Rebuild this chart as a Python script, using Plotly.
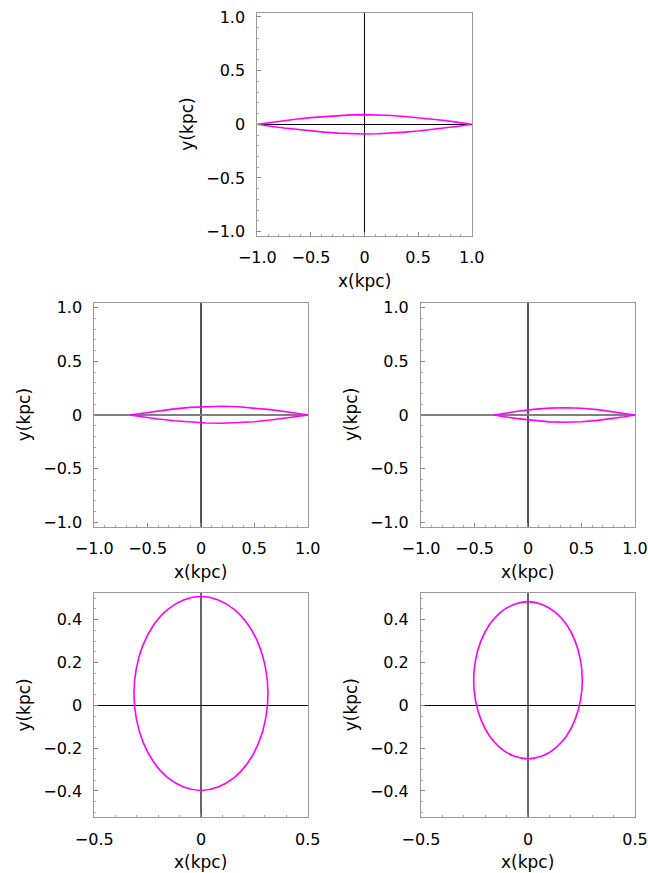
import plotly.graph_objects as go

# ---- data ----
# Panel 1 (top): lens-shaped orbit
p1_x_half = [-1.0, -0.875, -0.75, -0.625, -0.5, -0.375, -0.25, -0.125, 0.0,
             0.125, 0.25, 0.375, 0.5, 0.625, 0.75, 0.875, 1.0]
p1_y_upper = [0.0, 0.018, 0.035, 0.049, 0.062, 0.073, 0.082, 0.088, 0.090,
              0.088, 0.082, 0.073, 0.062, 0.049, 0.035, 0.018, 0.0]
p1_y_lower = [-0.0, -0.018, -0.035, -0.049, -0.062, -0.073, -0.082, -0.088, -0.090,
              -0.088, -0.082, -0.073, -0.062, -0.049, -0.035, -0.018, -0.0]

# Panel 2 (middle left)
p2_x_half = [-0.665, -0.55, -0.4, -0.25, -0.1, 0.05, 0.2, 0.35, 0.5, 0.65, 0.8, 0.9, 1.0]
p2_y_upper = [0.0, 0.0175, 0.039, 0.057, 0.071, 0.079, 0.081, 0.076, 0.066, 0.050, 0.030, 0.015, 0.0]
p2_y_lower = [0.0, -0.0166, -0.037, -0.054, -0.067, -0.075, -0.077, -0.072, -0.063, -0.047, -0.028, -0.014, 0.0]

# Panel 3 (middle right)
p3_x_half = [-0.318, -0.22, -0.1, 0.05, 0.2, 0.35, 0.5, 0.65, 0.8, 0.9, 1.0]
p3_y_upper = [0.0, 0.0158, 0.034, 0.052, 0.064, 0.068, 0.063, 0.050, 0.031, 0.016, 0.0]
p3_y_lower = [0.0, -0.0158, -0.034, -0.052, -0.064, -0.068, -0.063, -0.050, -0.031, -0.016, 0.0]

# Panel 4 (bottom left): closed orbit
p4_x = [0.314, 0.303, 0.272, 0.222, 0.157, 0.081, 0.0, -0.081, -0.157, -0.222, -0.272, -0.303,
        -0.314, -0.303, -0.272, -0.222, -0.157, -0.081, 0.0, 0.081, 0.157, 0.222, 0.272, 0.303, 0.314]
p4_y = [0.055, 0.172, 0.281, 0.375, 0.447, 0.492, 0.508, 0.492, 0.447, 0.375, 0.281, 0.172,
        0.055, -0.062, -0.171, -0.265, -0.337, -0.382, -0.398, -0.382, -0.337, -0.265, -0.171, -0.062, 0.055]

# Panel 5 (bottom right): closed orbit
p5_x = [0.254, 0.245, 0.220, 0.180, 0.127, 0.066, 0.0, -0.066, -0.127, -0.180, -0.220, -0.245,
        -0.254, -0.245, -0.220, -0.180, -0.127, -0.066, 0.0, 0.066, 0.127, 0.180, 0.220, 0.245, 0.254]
p5_y = [0.117, 0.212, 0.301, 0.377, 0.435, 0.471, 0.484, 0.471, 0.435, 0.377, 0.301, 0.212,
        0.117, 0.022, -0.067, -0.143, -0.201, -0.237, -0.250, -0.237, -0.201, -0.143, -0.067, 0.022, 0.117]

# tick labels
big_ticks = [-1.0, -0.5, 0.0, 0.5, 1.0]
big_text = ["\u22121.0", "\u22120.5", "0", "0.5", "1.0"]
small_xticks = [-0.5, 0.0, 0.5]
small_xtext = ["\u22120.5", "0", "0.5"]
small_yticks = [-0.4, -0.2, 0.0, 0.2, 0.4]
small_ytext = ["\u22120.4", "\u22120.2", "0", "0.2", "0.4"]

MAG = "#ff00ff"
FONT = "DejaVu Sans"

fig = go.Figure()

def lens(xh, yu, yl):
    xs = list(xh) + list(reversed(xh))
    ys = list(yu) + list(reversed(yl))
    return xs, ys

panels = [
    dict(n="", data=lens(p1_x_half, p1_y_upper, p1_y_lower), shape="linear",
         xdom=[0.3971, 0.7279], ydom=[0.7297, 0.9855], xr=[-1, 1], yr=[-1.04, 1.04],
         xt=(big_ticks, big_text), yt=(big_ticks, big_text), xminor=0.1, yminor=0.1,
         zx=("black", 1), zy=("black", 1)),
    dict(n="2", data=lens(p2_x_half, p2_y_upper, p2_y_lower), shape="linear",
         xdom=[0.1455, 0.4748], ydom=[0.3967, 0.6526], xr=[-1, 1], yr=[-1.04, 1.04],
         xt=(big_ticks, big_text), yt=(big_ticks, big_text), xminor=0.1, yminor=0.1,
         zx=("#555555", 1.5), zy=("#808080", 2)),
    dict(n="3", data=lens(p3_x_half, p3_y_upper, p3_y_lower), shape="linear",
         xdom=[0.6497, 0.9799], ydom=[0.3967, 0.6526], xr=[-1, 1], yr=[-1.04, 1.04],
         xt=(big_ticks, big_text), yt=(big_ticks, big_text), xminor=0.1, yminor=0.1,
         zx=("#555555", 1.5), zy=("#808080", 2)),
    dict(n="4", data=(p4_x, p4_y), shape="spline",
         xdom=[0.1455, 0.4748], ydom=[0.0638, 0.3204], xr=[-0.5, 0.5], yr=[-0.523, 0.523],
         xt=(small_xticks, small_xtext), yt=(small_yticks, small_ytext), xminor=0.1, yminor=0.05,
         zx=("#666666", 1.5), zy=("black", 1)),
    dict(n="5", data=(p5_x, p5_y), shape="spline",
         xdom=[0.6497, 0.9799], ydom=[0.0638, 0.3204], xr=[-0.5, 0.5], yr=[-0.523, 0.523],
         xt=(small_xticks, small_xtext), yt=(small_yticks, small_ytext), xminor=0.1, yminor=0.05,
         zx=("#666666", 1.5), zy=("black", 1)),
]

layout = {}
annotations = []
for p in panels:
    n = p["n"]
    xs, ys = p["data"]
    fig.add_trace(go.Scatter(x=xs, y=ys, mode="lines",
                             line=dict(color=MAG, width=1.6, shape=p["shape"]),
                             xaxis="x" + n, yaxis="y" + n, showlegend=False,
                             hoverinfo="skip"))
    common = dict(showline=True, mirror=True, linecolor="#9a9a9a", linewidth=1,
                  ticks="inside", ticklen=4, tickcolor="#888888", tickwidth=1,
                  showgrid=False, zeroline=True, automargin=False,
                  tickfont=dict(family=FONT, size=16, color="black"))
    layout["xaxis" + n] = dict(common, domain=p["xdom"], range=p["xr"],
                               anchor="y" + n, ticklabelstandoff=7,
                               tickmode="array", tickvals=p["xt"][0], ticktext=p["xt"][1],
                               zerolinecolor=p["zx"][0], zerolinewidth=p["zx"][1],
                               minor=dict(dtick=p["xminor"], ticks="inside", ticklen=2,
                                          tickcolor="#aaaaaa", showgrid=False))
    layout["yaxis" + n] = dict(common, domain=p["ydom"], range=p["yr"],
                               anchor="x" + n, ticklabelstandoff=8,
                               tickmode="array", tickvals=p["yt"][0], ticktext=p["yt"][1],
                               zerolinecolor=p["zy"][0], zerolinewidth=p["zy"][1],
                               minor=dict(dtick=p["yminor"], ticks="inside", ticklen=2,
                                          tickcolor="#aaaaaa", showgrid=False))
    xref = ("x" + n) + " domain"
    yref = ("y" + n) + " domain"
    annotations.append(dict(text="x(kpc)", xref=xref, yref=yref, x=0.5, y=0,
                            xanchor="center", yanchor="middle", yshift=-45,
                            showarrow=False, font=dict(family=FONT, size=17, color="black")))
    annotations.append(dict(text="y(kpc)", xref=xref, yref=yref, x=0, y=0.5,
                            xanchor="center", yanchor="middle", xshift=-70, textangle=-90,
                            showarrow=False, font=dict(family=FONT, size=17, color="black")))

fig.update_layout(**layout)
fig.update_layout(template="none", width=648, height=873,
                  margin=dict(l=0, r=0, t=0, b=0, autoexpand=False),
                  paper_bgcolor="white", plot_bgcolor="white",
                  annotations=annotations, showlegend=False)

fig.write_html("out.html")
